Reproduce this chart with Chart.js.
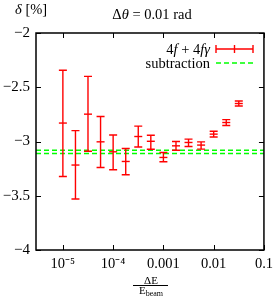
<!DOCTYPE html>
<html>
<head>
<meta charset="utf-8">
<script src="https://cdn.jsdelivr.net/npm/chart.js@4"></script>
<style>
  html, body { margin: 0; padding: 0; background: #fff; }
  #wrap { position: relative; width: 278px; height: 296px; font-family: 'Liberation Serif', serif; color: #000; }
  #wrap canvas { position: absolute; left: 0; top: 0; }
  .lbl { position: absolute; white-space: nowrap; line-height: 1; }
  .c { transform: translate(-50%, -50%); }
  .r { transform: translate(-100%, -50%); }
  .l { transform: translate(0, -50%); }
  i { font-style: italic; }
  .bar { position: absolute; left: 133px; top: 285px; width: 35px; height: 0; border-top: 1px solid #000; }
  sub { font-size: 8px; vertical-align: -2px; }
</style>
</head>
<body>
<div id="wrap">
  <canvas id="chart" width="278" height="296"></canvas>
  <div class="lbl l" style="left:15px; top:9px; font-size:14.5px;"><i>δ</i> [%]</div>
  <div class="lbl c" style="left:152px; top:14px; font-size:14.5px;">Δ<i>θ</i> = 0.01 rad</div>
  <div class="lbl r" style="left:210px; top:49px; font-size:14.5px;">4<i>f</i> + 4<i>fγ</i></div>
  <div class="lbl r" style="left:210px; top:63px; font-size:14.5px;">subtraction</div>
  <div class="lbl c" style="left:151px; top:280px; font-size:11px;">ΔE</div>
  <div class="bar"></div>
  <div class="lbl c" style="left:151px; top:291px; font-size:11px;">E<sub>beam</sub></div>
</div>
<script>
/* ── Data ── */
const X_VALUES = [1e-5, 1.78e-5, 3.16e-5, 5.62e-5, 1e-4, 1.78e-4, 3.16e-4, 5.62e-4,
                  1e-3, 1.78e-3, 3.16e-3, 5.62e-3, 0.01, 0.0178, 0.0316];
const DELTA    = [-2.83, -3.217, -2.748, -3.003, -3.095, -3.184, -2.954, -2.998,
                  -3.147, -3.04, -3.009, -3.033, -2.932, -2.825, -2.65];
const DELTA_HI = [-2.343, -2.90, -2.40, -2.77, -2.94, -3.065, -2.858, -2.943,
                  -3.101, -3.0, -2.978, -3.003, -2.905, -2.798, -2.627];
const DELTA_LO = [-3.322, -3.53, -3.09, -3.24, -3.26, -3.307, -3.05, -3.072,
                  -3.187, -3.08, -3.046, -3.07, -2.959, -2.852, -2.673];
const SUB_LEVELS = [-3.08, -3.11];

const X_MIN = 2.92e-6, X_MAX = 0.1;
const X_TICKS = [1e-5, 1e-4, 1e-3, 1e-2, 0.1];
const X_LABELS = ['10⁻⁵', '10⁻⁴', '0.001', '0.01', '0.1'];
const Y_TICKS = [-4, -3.5, -3, -2.5, -2];
const Y_LABELS = ['−4', '−3.5', '−3', '−2.5', '−2'];

const RED = '#ff0000';
const GREEN = '#00ff00';
const CAP = 4;

/* ── Plugins ── */
const errorBars = {
  id: 'errorBars',
  afterDatasetsDraw(chart) {
    const { ctx, scales: { x, y } } = chart;
    ctx.save();
    ctx.strokeStyle = RED;
    ctx.lineWidth = 1.4;
    X_VALUES.forEach((xv, i) => {
      const px = x.getPixelForValue(xv);
      const top = y.getPixelForValue(DELTA_HI[i]);
      const bot = y.getPixelForValue(DELTA_LO[i]);
      ctx.beginPath();
      ctx.moveTo(px, top); ctx.lineTo(px, bot);
      ctx.moveTo(px - CAP, top); ctx.lineTo(px + CAP, top);
      ctx.moveTo(px - CAP, bot); ctx.lineTo(px + CAP, bot);
      ctx.stroke();
    });
    ctx.restore();
  }
};

const frame = {
  id: 'frame',
  afterDraw(chart) {
    const { ctx, chartArea: a, scales: { x, y } } = chart;
    ctx.save();
    ctx.strokeStyle = '#000';
    ctx.lineWidth = 1;
    const tl = 5;
    ctx.beginPath();
    X_TICKS.forEach(v => {
      const px = Math.round(x.getPixelForValue(v)) + 0.5;
      ctx.moveTo(px, a.bottom); ctx.lineTo(px, a.bottom - tl);
      ctx.moveTo(px, a.top); ctx.lineTo(px, a.top + tl);
    });
    Y_TICKS.forEach(v => {
      const py = Math.round(y.getPixelForValue(v)) + 0.5;
      ctx.moveTo(a.left, py); ctx.lineTo(a.left + tl, py);
      ctx.moveTo(a.right, py); ctx.lineTo(a.right - tl, py);
    });
    ctx.stroke();
    ctx.lineWidth = 1.5;
    ctx.strokeRect(a.left, a.top, a.right - a.left, a.bottom - a.top);

    // legend samples
    const lx0 = 216, lx1 = 253;
    ctx.strokeStyle = RED;
    ctx.lineWidth = 1.4;
    ctx.beginPath();
    ctx.moveTo(lx0, 49); ctx.lineTo(lx1, 49);
    [lx0, (lx0 + lx1) / 2, lx1].forEach(t => { ctx.moveTo(t, 45); ctx.lineTo(t, 53); });
    ctx.stroke();
    ctx.strokeStyle = GREEN;
    ctx.setLineDash([5, 3]);
    ctx.beginPath();
    ctx.moveTo(lx0, 63); ctx.lineTo(lx1, 63);
    ctx.stroke();
    ctx.restore();
  }
};

/* ── Chart ── */
const subDatasets = SUB_LEVELS.map(v => ({
  type: 'line',
  data: [{ x: X_MIN, y: v }, { x: X_MAX, y: v }],
  borderColor: GREEN,
  borderWidth: 1.4,
  borderDash: [5, 3],
  pointRadius: 0,
  fill: false,
}));

new Chart(document.getElementById('chart'), {
  type: 'scatter',
  data: {
    datasets: [
      ...subDatasets,
      {
        label: '4f + 4fγ',
        data: X_VALUES.map((xv, i) => ({ x: xv, y: DELTA[i] })),
        pointStyle: 'line',
        pointRadius: CAP,
        borderColor: RED,
        backgroundColor: RED,
        borderWidth: 1.4,
      },
    ]
  },
  options: {
    responsive: false,
    animation: false,
    events: [],
    layout: { padding: { top: 33, right: 11, left: 0, bottom: 0 } },
    plugins: { legend: { display: false }, tooltip: { enabled: false } },
    scales: {
      x: {
        type: 'logarithmic',
        min: X_MIN,
        max: X_MAX,
        afterBuildTicks: s => { s.ticks = X_TICKS.map(v => ({ value: v })); },
        afterFit: s => { s.height = 46; },
        grid: { display: false, drawTicks: false },
        border: { display: false },
        ticks: {
          autoSkip: false,
          maxRotation: 0,
          padding: 5,
          color: '#000',
          font: { family: "'Liberation Serif', serif", size: 14.5 },
          callback: (v) => { const i = X_TICKS.indexOf(v); return i >= 0 ? X_LABELS[i] : ''; }
        }
      },
      y: {
        min: -4,
        max: -2,
        afterBuildTicks: s => { s.ticks = Y_TICKS.map(v => ({ value: v })); },
        afterFit: s => { s.width = 36; },
        grid: { display: false, drawTicks: false },
        border: { display: false },
        ticks: {
          padding: 6,
          color: '#000',
          font: { family: "'Liberation Serif', serif", size: 15 },
          callback: (v) => { const i = Y_TICKS.indexOf(v); return i >= 0 ? Y_LABELS[i] : ''; }
        }
      }
    }
  },
  plugins: [errorBars, frame]
});
</script>
</body>
</html>
